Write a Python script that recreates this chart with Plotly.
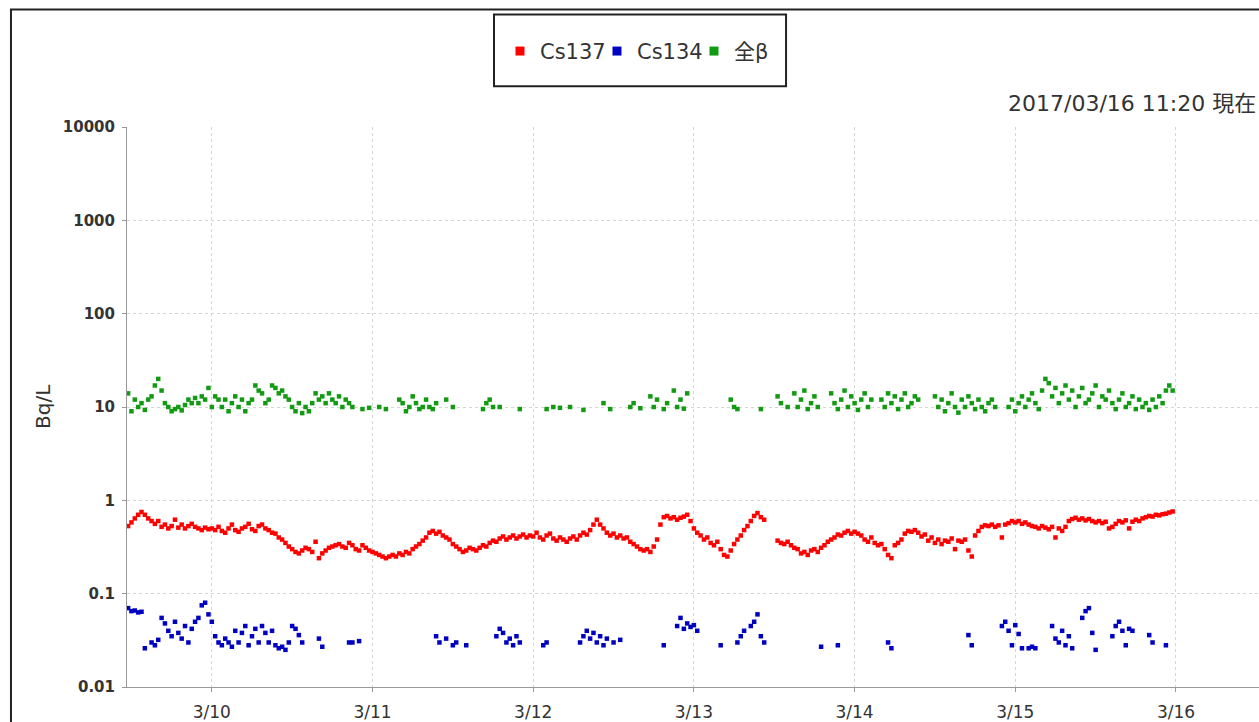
import pandas as pd
import plotly.graph_objects as go

# ---------------- data ----------------
# Cs137, 30-minute readings; each list starts at the time in red_starts
red_starts = ["2017-03-09 11:30", "2017-03-10 00:00", "2017-03-11 00:00", "2017-03-12 00:00",
              "2017-03-13 00:00", "2017-03-14 00:00", "2017-03-15 00:00"]
red_0309 = [0.53, 0.58, 0.64, 0.7, 0.75, 0.7, 0.64, 0.6, 0.56, 0.6, 0.52, 0.55, 0.5, 0.53, 0.62,
            0.51, 0.55, 0.5, 0.53, 0.56, 0.52, 0.5, 0.48, 0.51, 0.49]
red_0310 = [0.5, 0.48, 0.52, 0.47, 0.45, 0.5, 0.55, 0.48, 0.46, 0.5, 0.52, 0.56, 0.49, 0.47, 0.53, 0.55,
            0.5, 0.48, 0.45, 0.44, 0.4, 0.38, 0.35, 0.32, 0.3, 0.28, 0.27, 0.29, 0.31, 0.3, 0.28, 0.36,
            0.24, 0.27, 0.29, 0.31, 0.32, 0.33, 0.34, 0.32, 0.31, 0.35, 0.33, 0.3, 0.29, 0.33, 0.31, 0.29]
red_0311 = [0.28, 0.27, 0.26, 0.25, 0.24, 0.25, 0.26, 0.25, 0.27, 0.26, 0.28, 0.27, 0.3, 0.32, 0.34, 0.37,
            0.4, 0.45, 0.47, 0.44, 0.46, 0.42, 0.4, 0.38, 0.34, 0.32, 0.3, 0.28, 0.29, 0.31, 0.3, 0.29,
            0.31, 0.33, 0.32, 0.35, 0.37, 0.36, 0.39, 0.41, 0.38, 0.4, 0.42, 0.39, 0.41, 0.43, 0.4, 0.42]
red_0312 = [0.41, 0.45, 0.4, 0.38, 0.42, 0.44, 0.39, 0.37, 0.4, 0.38, 0.36, 0.39, 0.41, 0.38, 0.42, 0.45,
            0.43, 0.48, 0.55, 0.62, 0.55, 0.5, 0.45, 0.42, 0.44, 0.4, 0.42, 0.39, 0.4, 0.36, 0.34, 0.32,
            0.3, 0.29, 0.3, 0.28, 0.32, 0.38, 0.55, 0.66, 0.68, 0.64, 0.66, 0.62, 0.65, 0.67, 0.7, 0.6]
red_0313 = [0.5, 0.45, 0.42, 0.38, 0.4, 0.35, 0.33, 0.36, 0.3, 0.26, 0.25, 0.29, 0.34, 0.38, 0.42, 0.48,
            0.53, 0.6, 0.68, 0.73, 0.66, 0.62, None, None, None, 0.37, 0.35, 0.34, 0.36, 0.33, 0.31, 0.3,
            0.27, 0.28, 0.26, 0.29, 0.3, 0.28, 0.31, 0.33, 0.36, 0.38, 0.4, 0.43, 0.42, 0.45, 0.47, 0.44]
red_0314 = [0.46, 0.44, 0.42, 0.38, 0.36, 0.4, 0.35, 0.33, 0.34, 0.3, 0.26, 0.24, 0.33, 0.35, 0.38, 0.44,
            0.47, 0.46, 0.48, 0.45, 0.41, 0.43, 0.37, 0.4, 0.35, 0.38, 0.34, 0.37, 0.36, 0.39, 0.3, 0.37,
            0.36, 0.38, 0.29, 0.25, 0.42, 0.47, 0.52, 0.54, 0.53, 0.55, 0.52, 0.54, 0.4, 0.55, 0.57, 0.6]
red_0315 = [0.58, 0.6, 0.56, 0.58, 0.55, 0.53, 0.52, 0.5, 0.53, 0.51, 0.49, 0.52, 0.4, 0.5, 0.47, 0.52,
            0.6, 0.63, 0.65, 0.62, 0.64, 0.61, 0.63, 0.6, 0.58, 0.6, 0.57, 0.59, 0.5, 0.52, 0.56, 0.6,
            0.58, 0.61, 0.5, 0.59, 0.62, 0.6, 0.64, 0.66, 0.68, 0.67, 0.7, 0.69, 0.71, 0.72, 0.74, 0.76]

# 全β, 30-minute readings (None = no reading)
green_0309 = [14, 9, 12, 10, 11, 9.3, 12, 13, 17, 20, 15, 11, 10, 9, 9.5, 10, 9.2, 10.5, 12, 11,
              12.5, 11, 13, 12, 16]
green_0310 = [10, 13, 12, 10, 12, 9, 11, 13, 10, 12, 9, 11, 12, 17, 15, 14, 11, 12, 17, 16, 14, 15, 13, 12,
              10, 9, 11, 8.6, 10, 9, 11, 14, 12, 13, 11, 14, 12, 11, 13, 10, 12, 11, 10, None, None, 9.5,
              None, 9.8]
green_0311 = [None, None, 10, None, 9.5, None, None, None, 12, 11, 9, 10, 13, 11, 9.5, 10, 12, 10, 9.5, 11,
              None, None, 12, None, 10, None, None, None, None, None, None, None, None, 9.5, 11, 12, 10,
              None, 10, None, None, None, None, None, 9.5, None, None, None]
green_0312 = [None, None, None, None, 9.5, None, 10, None, 9.8, None, None, 10, None, None, None, 9.3, None,
              None, None, None, None, 11, None, 9.5, None, None, None, None, None, 10, 11, None, 9.7, None,
              None, 13, 10, 12, None, 9.5, 11, None, 15, 10, 12, 9.6, 14, None]
green_0313 = [None, None, None, None, None, None, None, None, None, None, None, 12, 10, 9.5, None, None, None,
              None, None, None, 9.5, None, None, None, None, 13, 11, None, 10, None, 14, 10, 12, 15, 9.5,
              11, 13, 10, None, None, None, 14, 11, 9.5, 12, 15, 10, 13]
green_0314 = [11, 9.3, 12, 14, 10, 12, None, None, 12, 10, 14, 11, 13, 9.5, 12, 14, 10, 11, 13, 12, None,
              None, None, None, 13, 10, 12, 9, 11, 14, 10, 8.7, 12, 10, 13, 11, 9.5, 12, 10, 9, 11, 12, 10,
              None, None, None, 10, 12]
green_0315 = [9, 11, 13, 10, 12, 14, 11, 9.5, 15, 20, 18, 13, 16, 11, 14, 17, 12, 15, 10, 13, 16, 11, 12, 14,
              17, 10, 13, 12, 15, 11, 9.5, 12, 14, 10, 11, 13, 9.5, 12, 10, 11, 9.3, 12, 10, 13, 11, 15, 17, 15]

# Cs134, irregular readings
blue_times = [
    "03-09 11:30", "03-09 12:00", "03-09 12:30", "03-09 13:00", "03-09 13:30", "03-09 14:00", "03-09 15:00",
    "03-09 15:30", "03-09 16:00", "03-09 16:30", "03-09 17:00", "03-09 17:30", "03-09 18:00", "03-09 18:30",
    "03-09 19:00", "03-09 19:30", "03-09 20:00", "03-09 20:30", "03-09 21:00", "03-09 21:30", "03-09 22:00",
    "03-09 22:30", "03-09 23:00", "03-09 23:30",
    "03-10 00:00", "03-10 00:30", "03-10 01:00", "03-10 01:30", "03-10 02:00", "03-10 02:30", "03-10 03:00",
    "03-10 03:30", "03-10 04:00", "03-10 04:30", "03-10 05:00", "03-10 05:30", "03-10 06:00", "03-10 06:30",
    "03-10 07:00", "03-10 07:30", "03-10 08:00", "03-10 08:30", "03-10 09:00", "03-10 09:30", "03-10 10:00",
    "03-10 10:30", "03-10 11:00", "03-10 11:30", "03-10 12:00", "03-10 12:30", "03-10 13:00", "03-10 13:30",
    "03-10 16:00", "03-10 16:30", "03-10 20:30", "03-10 21:00", "03-10 22:00",
    "03-11 09:30", "03-11 10:00", "03-11 11:00", "03-11 12:00", "03-11 12:30", "03-11 14:00", "03-11 18:30",
    "03-11 19:00", "03-11 19:30", "03-11 20:00", "03-11 20:30", "03-11 21:00", "03-11 21:30", "03-11 22:00",
    "03-12 01:30", "03-12 02:00", "03-12 07:00", "03-12 07:30", "03-12 08:00", "03-12 08:30", "03-12 09:00",
    "03-12 09:30", "03-12 10:00", "03-12 10:30", "03-12 11:00", "03-12 12:00", "03-12 13:00", "03-12 19:30",
    "03-12 21:30", "03-12 22:00", "03-12 22:30", "03-12 23:00", "03-12 23:30",
    "03-13 00:00", "03-13 00:30", "03-13 04:00", "03-13 06:30", "03-13 07:00", "03-13 07:30", "03-13 08:30",
    "03-13 09:00", "03-13 09:30", "03-13 10:00", "03-13 10:30", "03-13 19:00", "03-13 21:30",
    "03-14 05:00", "03-14 05:30", "03-14 17:00", "03-14 17:30", "03-14 22:00", "03-14 22:30", "03-14 23:00",
    "03-14 23:30",
    "03-15 00:00", "03-15 00:30", "03-15 01:00", "03-15 02:00", "03-15 02:30", "03-15 03:00", "03-15 05:30",
    "03-15 06:00", "03-15 06:30", "03-15 07:00", "03-15 07:30", "03-15 08:00", "03-15 08:30", "03-15 10:00",
    "03-15 10:30", "03-15 11:00", "03-15 11:30", "03-15 12:00", "03-15 14:30", "03-15 15:00", "03-15 15:30",
    "03-15 16:00", "03-15 16:30", "03-15 17:00", "03-15 17:30", "03-15 20:00", "03-15 20:30", "03-15 22:30",
]
blue_values = [
    0.07, 0.065, 0.066, 0.063, 0.064, 0.026, 0.03, 0.028, 0.032, 0.055, 0.048, 0.04, 0.035, 0.05,
    0.038, 0.033, 0.045, 0.03, 0.042, 0.05, 0.055, 0.075, 0.08, 0.06,
    0.05, 0.035, 0.03, 0.028, 0.033, 0.03, 0.027, 0.04, 0.03, 0.038, 0.045, 0.028, 0.035, 0.042,
    0.03, 0.045, 0.038, 0.03, 0.04, 0.028, 0.026, 0.027, 0.025, 0.03, 0.045, 0.042, 0.036, 0.03,
    0.033, 0.027, 0.03, 0.03, 0.031,
    0.035, 0.03, 0.033, 0.028, 0.03, 0.028, 0.035, 0.042, 0.038, 0.03, 0.033, 0.028, 0.035, 0.03,
    0.028, 0.03, 0.03, 0.035, 0.04, 0.033, 0.038, 0.03, 0.035, 0.028, 0.033, 0.03, 0.032, 0.028,
    0.045, 0.055, 0.042, 0.048, 0.044,
    0.046, 0.04, 0.028, 0.03, 0.035, 0.04, 0.045, 0.05, 0.06, 0.035, 0.03, 0.027, 0.028,
    0.03, 0.026, 0.036, 0.028, 0.045, 0.05, 0.04, 0.028,
    0.046, 0.037, 0.026, 0.026, 0.027, 0.026, 0.045, 0.033, 0.03, 0.04, 0.028, 0.035, 0.026, 0.055,
    0.065, 0.07, 0.038, 0.025, 0.035, 0.045, 0.05, 0.04, 0.028, 0.042, 0.04, 0.036, 0.03, 0.028,
]

series_names = ["Cs137", "Cs134", "全β"]
series_colors = ["#ff0000", "#0000c0", "#129a12"]
y_tick_values = [0.01, 0.1, 1, 10, 100, 1000, 10000]
y_tick_labels = ["0.01", "0.1", "1", "10", "100", "1000", "10000"]
axis_start = "2017-03-09 11:20"
axis_end = "2017-03-16 12:24"
stamp_text = "2017/03/16 11:20 現在"
y_title = "Bq/L"


def build(starts, lists):
    xs, ys = [], []
    for st, vals in zip(starts, lists):
        t = pd.date_range(st, periods=len(vals), freq="30min")
        xs.extend(t)
        ys.extend(vals)
    return xs, ys


red_x, red_y = build(red_starts, [red_0309, red_0310, red_0311, red_0312, red_0313, red_0314, red_0315])
green_x, green_y = build(red_starts, [green_0309, green_0310, green_0311, green_0312, green_0313,
                                      green_0314, green_0315])
blue_x = pd.to_datetime(["2017-" + t for t in blue_times])

fig = go.Figure()
mk = dict(symbol="square", size=4.5, line=dict(width=0))
for xs, ys, col, nm in [(green_x, green_y, series_colors[2], series_names[2]),
                        (red_x, red_y, series_colors[0], series_names[0]),
                        (blue_x, blue_values, series_colors[1], series_names[1])]:
    fig.add_trace(go.Scatter(x=xs, y=ys, mode="markers", marker=dict(mk, color=col),
                             name=nm, showlegend=False, hoverinfo="x+y"))

# legend entries
for nm, col in zip(series_names, series_colors):
    fig.add_trace(go.Scatter(x=[None], y=[None], mode="markers", name=nm,
                             marker=dict(symbol="square", size=9, color=col, line=dict(width=0))))

grid = "#d6d6d6"
fig.update_layout(
    width=1259, height=722,
    margin=dict(l=127, r=0, t=127, b=32),
    paper_bgcolor="white", plot_bgcolor="white",
    font=dict(family="DejaVu Sans, Noto Sans CJK JP", color="#333"),
    legend=dict(orientation="h", x=0.3295, xanchor="left", y=1.135, yanchor="middle",
                font=dict(family="DejaVu Sans, Noto Sans CJK JP", size=21, color="#333"),
                entrywidth=52, itemwidth=30, bgcolor="rgba(0,0,0,0)", borderwidth=0),
    xaxis=dict(type="date", range=[axis_start, axis_end], tick0="2017-03-10", dtick=86400000,
               tickformat="%-m/%d", showgrid=True, gridcolor=grid, griddash="dot", gridwidth=1,
               showline=True, linecolor="#999", linewidth=1, ticks="outside", ticklen=4,
               tickcolor="#999", tickfont=dict(family="DejaVu Sans", size=17, color="#333"),
               ticklabelstandoff=6, zeroline=False),
    yaxis=dict(type="log", range=[-2, 4], tickvals=y_tick_values, ticktext=y_tick_labels,
               showgrid=True, gridcolor=grid, griddash="dot", gridwidth=1,
               showline=True, linecolor="#999", linewidth=1, ticks="outside", ticklen=4,
               tickcolor="#999", tickfont=dict(family="DejaVu Sans", size=15, color="#333", weight="bold"),
               ticklabelstandoff=4, zeroline=False),
    shapes=[
        dict(type="rect", xref="paper", yref="paper", x0=-0.1025, x1=1.2, y0=-0.3, y1=1.2096,
             line=dict(color="#222", width=2), fillcolor="rgba(0,0,0,0)", layer="above"),
        dict(type="rect", xref="paper", yref="paper", x0=0.3242, x1=0.5822, y0=1.0728, y1=1.2007,
             line=dict(color="#222", width=2), fillcolor="rgba(0,0,0,0)", layer="above"),
    ],
    annotations=[
        dict(text=stamp_text, xref="paper", yref="paper", x=0.9991, y=1.0426, xanchor="right",
             yanchor="middle", showarrow=False,
             font=dict(family="DejaVu Sans, Noto Sans CJK JP", size=22, color="#333")),
        dict(text=y_title, xref="paper", yref="paper", x=-0.0738, y=0.501, xanchor="center",
             yanchor="middle", textangle=-90, showarrow=False,
             font=dict(family="DejaVu Sans", size=20, color="#333")),
    ],
)

# remove the default 8px page margin so the figure fills the window exactly
fig.write_html("out.html", config={"displayModeBar": False},
               post_script="document.body.style.margin='0';document.body.style.overflow='hidden';")
